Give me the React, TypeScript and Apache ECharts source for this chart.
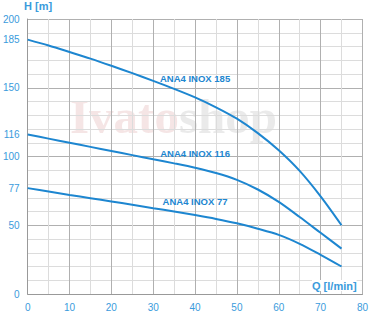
import React, { useEffect, useRef } from "react";
import * as echarts from "echarts";

const flowQ = [0, 5, 10, 15, 20, 25, 30, 35, 40, 45, 50, 55, 60, 65, 70, 75];
const head185 = [185, 180.7, 176, 171.2, 166, 160.6, 155, 149.2, 143, 135.8, 127.5, 117, 104.5, 89.5, 71, 50];
const head116 = [116, 113, 110, 107, 104, 101, 98, 95, 91.8, 88, 83, 76, 67, 56, 44.5, 33];
const head77 = [77, 74.5, 72, 69.7, 67.3, 64.9, 62.4, 60, 57.4, 54.6, 51.4, 47.5, 43, 36.5, 28.5, 20];
const seriesNames = ["ANA4 INOX 185", "ANA4 INOX 116", "ANA4 INOX 77"];
const labelAnchors: [number, number][] = [[40, 157], [40, 102.5], [40, 67]];
const yTickLabels = [0, 50, 77, 100, 116, 150, 185, 200];

const BLUE = "#1d86d0";
const LABEL_BLUE = "#3a9bdc";
const FONT = "Liberation Sans, Arial, sans-serif";

export default function App() {
  const ref = useRef<HTMLDivElement>(null);
  useEffect(() => {
    if (!ref.current) return;
    const chart = echarts.init(ref.current, undefined, { renderer: "svg" });
    const all = [head185, head116, head77];
    const series: any[] = all.map((arr, i) => ({
      type: "line",
      name: seriesNames[i],
      yAxisIndex: 0,
      data: flowQ.map((q, j) => [q, arr[j]]),
      smooth: 0.3,
      showSymbol: false,
      symbol: "none",
      z: 5,
      lineStyle: { color: BLUE, width: 2 },
      markPoint: {
        symbol: "circle",
        symbolSize: 1,
        itemStyle: { color: "rgba(0,0,0,0)" },
        label: {
          show: true,
          position: "inside",
          formatter: seriesNames[i],
          color: BLUE,
          fontSize: 9.5,
          fontWeight: "bold",
          fontFamily: FONT,
        },
        data: [{ coord: labelAnchors[i] }],
      },
    }));
    chart.setOption({
      animation: false,
      grid: { left: 26, right: 5, top: 19, bottom: 21, containLabel: false },
      graphic: [
        {
          type: "text",
          left: 70,
          top: 92,
          z: -1,
          silent: true,
          style: {
            text: "{a|Ivato}{b|shop}",
            rich: {
              a: {
                font: "bold 49px 'Liberation Serif', serif",
                fill: "rgba(215,150,150,0.25)",
              },
              b: {
                font: "bold 49px 'Liberation Serif', serif",
                fill: "rgba(150,150,150,0.2)",
              },
            },
          },
        },
        {
          type: "text",
          left: 24,
          top: 0,
          z: 100,
          style: {
            text: "H [m]",
            font: "bold 11px 'Liberation Sans', Arial, sans-serif",
            fill: LABEL_BLUE,
          },
        },
        {
          type: "text",
          left: 312,
          top: 280,
          z: 100,
          style: {
            text: "Q [l/min]",
            font: "bold 11px 'Liberation Sans', Arial, sans-serif",
            fill: LABEL_BLUE,
            backgroundColor: "#fff",
          },
        },
      ],
      xAxis: {
        type: "value",
        min: 0,
        max: 80,
        interval: 5,
        axisLine: { show: true, lineStyle: { color: "#999", width: 1 } },
        axisTick: { show: false },
        axisLabel: {
          color: LABEL_BLUE,
          fontSize: 10,
          margin: 8,
          fontFamily: FONT,
          formatter: (v: number) => (v % 10 === 0 ? String(v) : ""),
        },
        splitLine: {
          show: true,
          lineStyle: { color: ["#b0b0b0", "#dcdcdc"], width: 1 },
        },
      },
      yAxis: [
        {
          type: "value",
          min: 0,
          max: 200,
          interval: 10,
          axisLine: { show: true, lineStyle: { color: "#999", width: 1 } },
          axisTick: { show: false },
          axisLabel: { show: false },
          splitLine: {
            show: true,
            lineStyle: {
              color: ["#b0b0b0", "#dcdcdc", "#dcdcdc", "#dcdcdc", "#dcdcdc"],
              width: 1,
            },
          },
        },
        {
          type: "value",
          position: "left",
          min: 0,
          max: 200,
          interval: 1,
          axisLine: { show: false },
          axisTick: { show: false },
          splitLine: { show: false },
          axisLabel: {
            color: LABEL_BLUE,
            fontSize: 10,
            margin: 8,
            fontFamily: FONT,
            formatter: (v: number) => (yTickLabels.indexOf(v) >= 0 ? String(v) : ""),
          },
        },
      ],
      series,
    });
    return () => chart.dispose();
  }, []);
  return (
    <div
      ref={ref}
      style={{ position: "fixed", left: 0, top: 0, width: 371, height: 315, background: "#fff" }}
    />
  );
}
